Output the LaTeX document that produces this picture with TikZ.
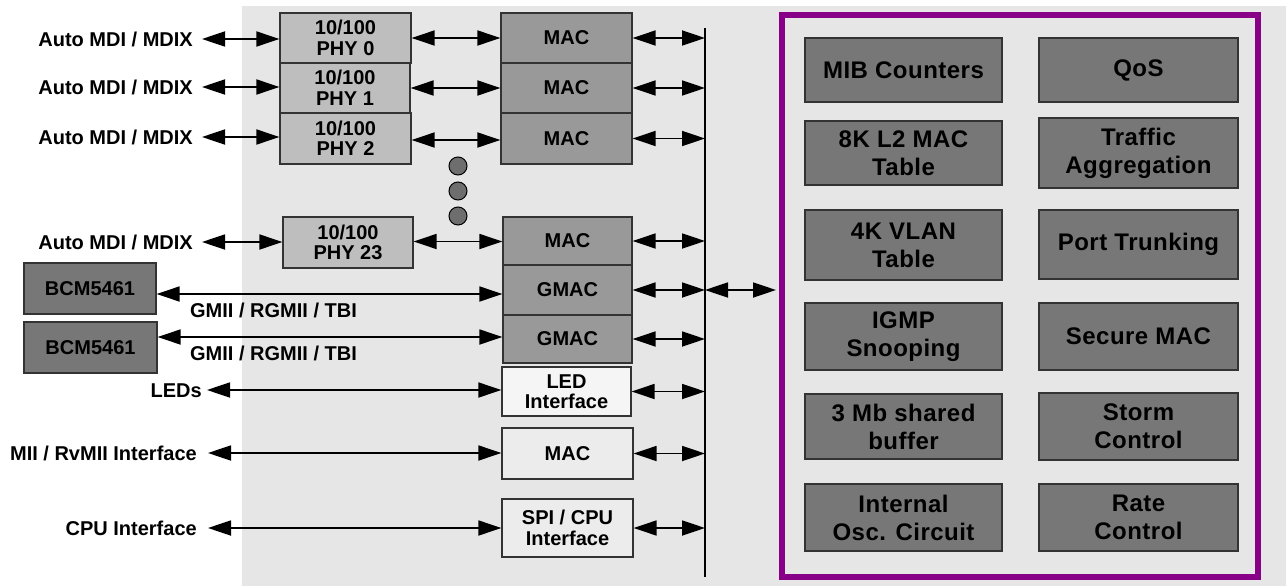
\documentclass[tikz,border=0pt]{standalone}
\usepackage{fontspec}
\setmainfont{Liberation Sans}
\usetikzlibrary{arrows.meta}
\definecolor{cBg}{HTML}{E6E6E6}
\definecolor{cPhy}{HTML}{BEBEBE}
\definecolor{cMac}{HTML}{999999}
\definecolor{cDark}{HTML}{777777}
\definecolor{cLed}{HTML}{F5F5F5}
\definecolor{cLite}{HTML}{ECECEC}
\definecolor{cBorder}{HTML}{333333}
\definecolor{cPurple}{HTML}{880088}
\definecolor{cDot}{HTML}{6E6E6E}
\newcommand\fsmall{\bfseries\fontsize{20}{20.5}\selectfont}
\newcommand\fbig{\bfseries\fontsize{24}{28}\selectfont\addfontfeatures{LetterSpace=2}}
\begin{document}
\begin{tikzpicture}[x=1pt,y=-1pt,
  blk/.style={draw=cBorder, line width=1.3pt, inner sep=0pt, align=center, text=black, font=\fsmall},
  phybox/.style={blk, fill=cPhy},
  macbox/.style={blk, fill=cMac},
  ledbox/.style={blk, fill=cLed},
  litebox/.style={blk, fill=cLite},
  darkbox/.style={blk, fill=cDark},
  featbox/.style={blk, fill=cDark, font=\fbig},
  lab/.style={inner sep=0pt, font=\fsmall, text height=14.3pt, text depth=0pt, anchor=east},
  tipA/.tip={Triangle[length=23pt,width=15pt]},
  biarrow/.style={line width=1.8pt, tipA-tipA},
  dotc/.style={circle, draw=black, line width=1pt, fill=cDot, minimum size=18pt, inner sep=0pt}
]
\useasboundingbox (0,0) rectangle (1286,586);
\fill[cBg] (242,6) rectangle (1286,586);

% PHY column
\node[phybox, minimum width=131pt, minimum height=50pt] (phy0) at (345.5,38) {10/100\\PHY 0};
\node[phybox, minimum width=130pt, minimum height=50pt] (phy1) at (345,88) {10/100\\PHY 1};
\node[phybox, minimum width=131pt, minimum height=51pt] (phy2) at (345.5,138.5) {10/100\\PHY 2};
\node[phybox, minimum width=130pt, minimum height=51pt] (phy23) at (348,242.5) {10/100\\PHY 23};

% MAC column
\node[macbox, minimum width=131pt, minimum height=50pt] (mac0) at (566.5,38) {MAC};
\node[macbox, minimum width=131pt, minimum height=50pt] (mac1) at (566.5,88) {MAC};
\node[macbox, minimum width=131pt, minimum height=51pt] (mac2) at (566.5,138.5) {MAC};
\node[macbox, minimum width=129pt, minimum height=48pt] (mac4) at (567.5,241) {MAC};
\node[macbox, minimum width=129pt, minimum height=50pt] (gmac1) at (567.5,290) {GMAC};
\node[macbox, minimum width=129pt, minimum height=48pt] (gmac2) at (567.5,339) {GMAC};
\node[ledbox, minimum width=129pt, minimum height=49pt] (led) at (566.5,391.5) {LED\\Interface};
\node[litebox, minimum width=131pt, minimum height=51pt] (miimac) at (567.5,453.5) {MAC};
\node[litebox, minimum width=131pt, minimum height=58pt] (spi) at (567.5,528) {SPI / CPU\\Interface};

% BCM boxes
\node[darkbox, minimum width=132pt, minimum height=51pt] (bcm1) at (90,288.5) {BCM5461};
\node[darkbox, minimum width=133pt, minimum height=51pt] (bcm2) at (90.5,347.5) {BCM5461};

% dots
\node[dotc] (d1) at (458,166) {};
\node[dotc] (d2) at (458,191) {};
\node[dotc] (d3) at (458,216) {};

% bus
\coordinate (bustop) at (705,28);
\coordinate (busbot) at (705,577);
\draw[line width=1.3pt] (bustop) -- (busbot);

% core block
\node[draw=cPurple, line width=6pt, minimum width=476pt, minimum height=561.5pt, inner sep=0pt] (core) at (1020,296) {};
\node[featbox, minimum width=197pt, minimum height=64pt] (mib) at (903.5,70) {MIB Counters};
\node[featbox, minimum width=199pt, minimum height=64pt] (qos) at (1138.5,70) {QoS};
\node[featbox, minimum width=197pt, minimum height=64pt] (l2) at (903.5,153) {8K L2 MAC\\Table};
\node[featbox, minimum width=199pt, minimum height=70pt] (traffic) at (1138.5,153) {Traffic\\Aggregation};
\node[featbox, minimum width=197pt, minimum height=70pt] (vlan) at (903.5,245) {4K VLAN\\Table};
\node[featbox, minimum width=199pt, minimum height=69pt] (trunk) at (1138.5,244.5) {Port Trunking};
\node[featbox, minimum width=197pt, minimum height=67pt] (igmp) at (903.5,336.5) {IGMP\\Snooping};
\node[featbox, minimum width=199pt, minimum height=67pt] (secure) at (1138.5,336.5) {Secure MAC};
\node[featbox, minimum width=197pt, minimum height=65pt] (buf) at (903.5,426.5) {3 Mb shared\\buffer};
\node[featbox, minimum width=199pt, minimum height=67pt] (storm) at (1138.5,426.5) {Storm\\Control};
\node[featbox, minimum width=197pt, minimum height=67pt] (osc) at (903.5,517.5) {Internal\\Osc. Circuit};
\node[featbox, minimum width=199pt, minimum height=67pt] (rate) at (1138.5,517.5) {Rate\\Control};

% left labels
\node[lab] (l0) at (193,39) {Auto MDI / MDIX};
\node[lab] (l1) at (193,87) {Auto MDI / MDIX};
\node[lab] (l2lab) at (193,137) {Auto MDI / MDIX};
\node[lab] (l23) at (193,242) {Auto MDI / MDIX};
\node[lab] (leds) at (202,390) {LEDs};
\node[lab] (mii) at (197,453) {MII / RvMII Interface};
\node[lab] (cpu) at (197,528) {CPU Interface};
\node[font=\fsmall, inner sep=0pt] (g1) at (273.5,310) {GMII / RGMII / TBI};
\node[font=\fsmall, inner sep=0pt] (g2) at (273.5,353) {GMII / RGMII / TBI};

% label -> PHY arrows
\draw[biarrow, shorten <=9pt] (l0.east) -- (l0.east -| phy0.west);
\draw[biarrow, shorten <=9pt] (l1.east) -- (l1.east -| phy1.west);
\draw[biarrow, shorten <=9pt] (l2lab.east) -- (l2lab.east -| phy2.west);
\draw[biarrow, shorten <=9pt] (l23.east) -- (l23.east -| phy23.west);
\draw[biarrow, shorten <=5pt] (leds.east) -- (leds.east -| led.west);
\draw[biarrow, shorten <=11pt] (mii.east) -- (mii.east -| miimac.west);
\draw[biarrow, shorten <=11pt] (cpu.east) -- (cpu.east -| spi.west);

% PHY -> MAC
\draw[biarrow] (phy0.east) -- (phy0.east -| mac0.west);
\draw[biarrow] (phy1.east) -- (phy1.east -| mac1.west);
\draw[biarrow] ([yshift=-1.5pt]phy2.east) -- ([yshift=-1.5pt]phy2.east -| mac2.west);
\draw[biarrow] ([yshift=1pt]phy23.east) -- ([yshift=1pt]phy23.east -| mac4.west);

% BCM -> GMAC
\draw[biarrow] ([yshift=-5.5pt]bcm1.east) -- ([yshift=-5.5pt]bcm1.east -| gmac1.west);
\draw[biarrow] ([yshift=10.5pt]bcm2.east) -- ([yshift=10.5pt]bcm2.east -| gmac2.west);

% MAC -> bus
\foreach \n in {mac0,mac1,mac2,mac4,gmac1,gmac2,led,miimac,spi}
  \draw[biarrow] (\n.east) -- (\n.east -| bustop);

% bus -> core
\coordinate (busj) at (705,290);
\draw[biarrow, shorten >=3pt] (busj) -- (busj -| core.west);
\end{tikzpicture}
\end{document}
